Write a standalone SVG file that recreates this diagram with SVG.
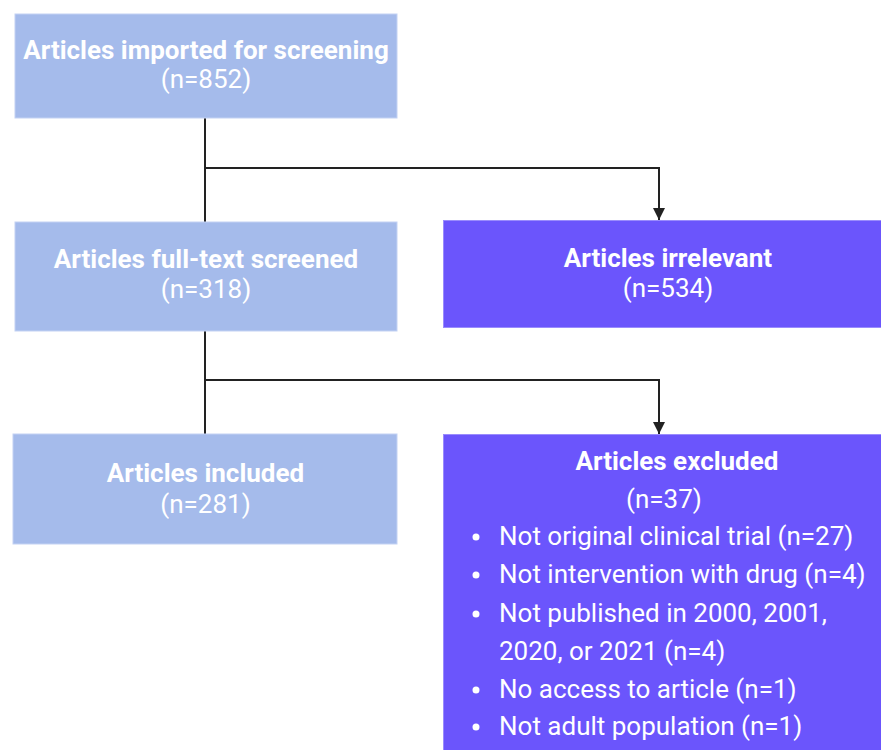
<svg xmlns="http://www.w3.org/2000/svg" width="881" height="750" viewBox="0 0 881 750">
<style>
.lb{fill:#a5bbeb;stroke:#c3d2f3;stroke-width:1}
.pu{fill:#6b55fc;stroke:#9a8cfd;stroke-width:1}
text{font-family:Roboto,"Liberation Sans",sans-serif;fill:#fff}
.t{font-weight:bold;font-size:26px;text-anchor:middle}
.n{font-size:26px;text-anchor:middle}
.b{font-size:26px}
.c{fill:none;stroke:#222;stroke-width:2}
</style>
<defs>
<marker id="ah" viewBox="0 0 12 12" markerWidth="12" markerHeight="12" refX="12" refY="6" orient="auto" markerUnits="userSpaceOnUse">
<path d="M0,0 L12,6 L0,12 Z" fill="#222"/>
</marker>
</defs>
<rect width="881" height="750" fill="#fff"/>
<g id="connectors">
<path class="c" d="M205,118 V222"/>
<path class="c" d="M205,168 H659 V220" marker-end="url(#ah)"/>
<path class="c" d="M205,331 V434"/>
<path class="c" d="M205,380 H659 V434" marker-end="url(#ah)"/>
</g>
<g id="n1">
<rect class="lb" x="15" y="14" width="382" height="104"/>
<text class="t" x="206" y="59">Articles imported for screening</text>
<text class="n" x="206" y="88">(n=852)</text>
</g>
<g id="n2">
<rect class="lb" x="15" y="222" width="382" height="109"/>
<text class="t" x="206" y="268">Articles full-text screened</text>
<text class="n" x="206" y="298">(n=318)</text>
</g>
<g id="n3">
<rect class="pu" x="443.5" y="220.5" width="440" height="107"/>
<text class="t" x="668" y="267">Articles irrelevant</text>
<text class="n" x="668" y="297">(n=534)</text>
</g>
<g id="n4">
<rect class="lb" x="13" y="434" width="384" height="110"/>
<text class="t" x="205.5" y="482">Articles included</text>
<text class="n" x="205.5" y="513">(n=281)</text>
</g>
<g id="n5">
<rect class="pu" x="443.5" y="434.5" width="440" height="320"/>
<text class="t" x="677" y="470">Articles excluded</text>
<text class="n" x="664" y="508">(n=37)</text>
<circle cx="476" cy="537" r="3.5" fill="#fff"/>
<circle cx="476" cy="575" r="3.5" fill="#fff"/>
<circle cx="476" cy="614" r="3.5" fill="#fff"/>
<circle cx="476" cy="690" r="3.5" fill="#fff"/>
<circle cx="476" cy="727" r="3.5" fill="#fff"/>
<text class="b" x="499" y="545">Not original clinical trial (n=27)</text>
<text class="b" x="499" y="583">Not intervention with drug (n=4)</text>
<text class="b" x="499" y="622">Not published in 2000, 2001,</text>
<text class="b" x="499" y="660">2020, or 2021 (n=4)</text>
<text class="b" x="499" y="698">No access to article (n=1)</text>
<text class="b" x="499" y="735">Not adult population (n=1)</text>
</g>
</svg>
